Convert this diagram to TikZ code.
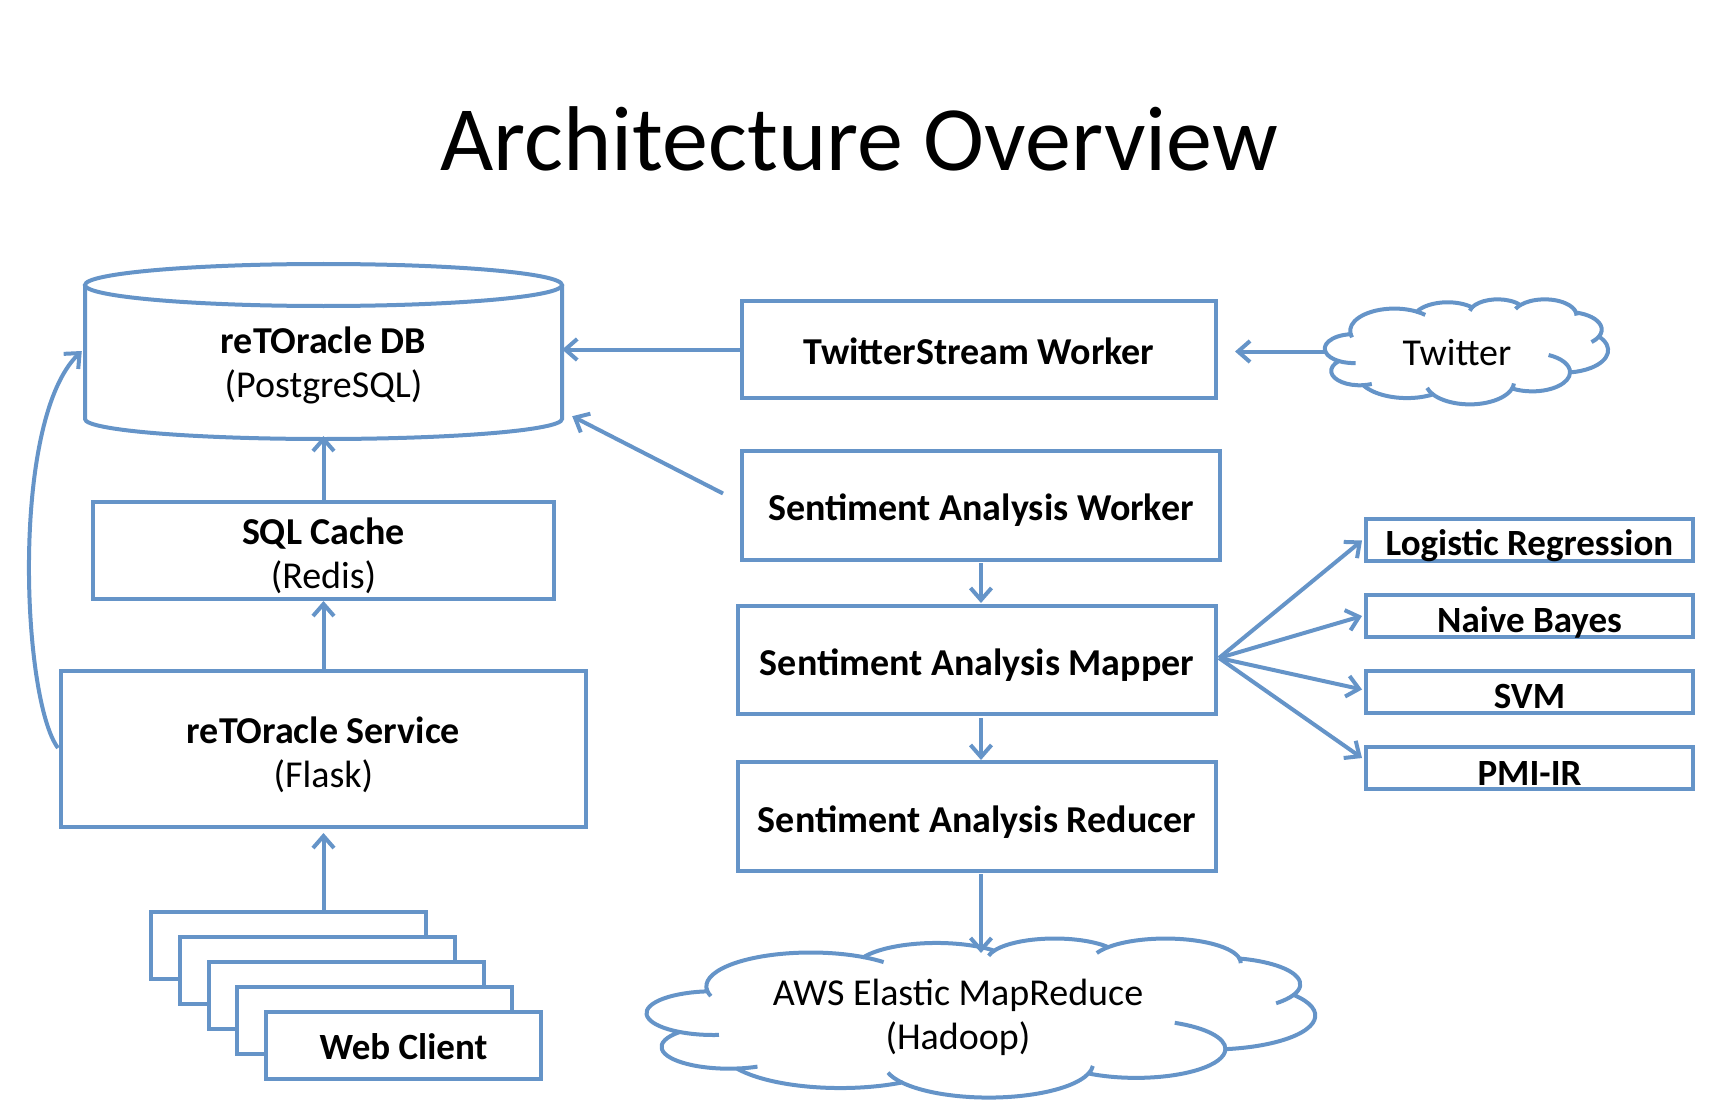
\documentclass[tikz,border=0pt]{standalone}
\usepackage{fontspec}
\setmainfont{Carlito}
\usetikzlibrary{arrows.meta,calc}
\definecolor{lb}{HTML}{6594C8}
\tikzset{
  box/.style={draw=lb, line width=4pt, fill=white, inner sep=0pt},
  cls/.style={box, minimum width=327pt, minimum height=42pt},
  lbl/.style={inner sep=0pt, align=center, font=\fontsize{38}{44}\selectfont},
  lblb/.style={lbl, font=\fontsize{38}{44}\selectfont\bfseries},
  clsl/.style={lbl, font=\fontsize{37}{40}\selectfont\bfseries},
  arr/.style={draw=lb, line width=4pt, -{Straight Barb[length=12pt,width=21pt,line width=4pt]}},
  cl/.style={draw=lb, line width=4pt, line join=round},
}
% PowerPoint-style cloud: #1,#2 top-left corner, #3 width, #4 height
\newcommand\pptcloud[4]{%
\begin{scope}[shift={(#1,#2)}, xscale=#3/432, yscale=#4/432]
\filldraw[cl, fill=white] (39.00,143.70)
  arc[start angle=-187.746, end angle=-59.635, x radius=67.53, y radius=91.90]
  arc[start angle=-152.02, end angle=-45.47, x radius=53.33, y radius=72.67]
  arc[start angle=-153.50, end angle=-37.35, x radius=43.65, y radius=59.45]
  arc[start angle=-139.72, end angle=-10.21, x radius=48.57, y radius=65.95]
  arc[start angle=-74.77, end angle=23.21, x radius=53.33, y radius=72.73]
  arc[start angle=-37.55, end angle=81.86, x radius=67.75, y radius=92.20]
  arc[start angle=0.46, end angle=121.98, x radius=57.85, y radius=78.67]
  arc[start angle=16.84, end angle=146.23, x radius=67.52, y radius=92.15]
  arc[start angle=59.02, end angle=150.20, x radius=77.20, y radius=105.43]
  arc[start angle=83.30, end angle=223.11, x radius=43.60, y radius=59.18]
  arc[start angle=120.35, end angle=264.11, x radius=43.45, y radius=59.45] -- cycle;
\draw[cl] (105.913,131.314) ++(163.2:67.53 and 91.90) arc[start angle=163.2, end angle=172.25, x radius=67.53, y radius=91.90];
\draw[cl] (105.913,131.314) ++(-59.64:67.53 and 91.90) arc[start angle=-59.64, end angle=-45.75, x radius=67.53, y radius=91.90];
\draw[cl] (263.618,60.84) ++(-167.76:43.65 and 59.45) arc[start angle=-167.76, end angle=-153.5, x radius=43.65, y radius=59.45];
\draw[cl] (335.363,67.382) ++(-156.29:48.57 and 65.95) arc[start angle=-156.29, end angle=-139.72, x radius=48.57, y radius=65.95];
\draw[cl] (335.363,67.382) ++(-10.21:48.57 and 65.95) arc[start angle=-10.21, end angle=0.83, x radius=48.57, y radius=65.95];
\draw[cl] (369.155,125.868) ++(23.21:53.33 and 72.73) arc[start angle=23.21, end angle=45, x radius=53.33, y radius=72.73];
\draw[cl] (316.219,301.396) ++(-64.3:57.85 and 78.67) arc[start angle=-64.3, end angle=0.46, x radius=57.85, y radius=78.67];
\draw[cl] (220.957,341.432) ++(3.8:67.52 and 92.15) arc[start angle=3.8, end angle=16.84, x radius=67.52, y radius=92.15];
\draw[cl] (220.957,341.432) ++(146.23:67.52 and 92.15) arc[start angle=146.23, end angle=164.6, x radius=67.52, y radius=92.15];
\draw[cl] (53.014,295.887) ++(65:43.60 and 59.18) arc[start angle=65, end angle=83.30, x radius=43.60, y radius=59.18];
\draw[cl] (43.143,204.134) ++(85.5:43.45 and 59.45) arc[start angle=85.5, end angle=120.35, x radius=43.45, y radius=59.45];
\end{scope}}
\begin{document}
\begin{tikzpicture}[x=1pt,y=-1pt]
\useasboundingbox (0,0) rectangle (1714,1110);
% title
\node[font=\fontsize{92}{100}\selectfont] (title) at (859,139) {Architecture Overview};
% DB cylinder
\fill[white] (85,285) -- (85,419) arc[start angle=180,end angle=360,x radius=238.5pt,y radius=20pt] -- (562,285) -- cycle;
\draw[lb, line width=4pt] (85,285) -- (85,419) arc[start angle=180,end angle=360,x radius=238.5pt,y radius=20pt] -- (562,285);
\draw[lb, line width=4pt, fill=white] (323.5,285) ellipse[x radius=238.5pt, y radius=21pt];
\node[inner sep=0pt, minimum width=477pt, minimum height=134pt] (db) at (323.5,362) {};
\node[lbl] at ($(db)+(0,3)$) {\textbf{reTOracle DB}\\(PostgreSQL)};
% left column
\node[box, minimum width=461pt, minimum height=97pt] (sql) at (323.5,550.5) {};
\node[lbl] at ($(sql)+(0,5)$) {\textbf{SQL Cache}\\(Redis)};
\node[box, minimum width=525pt, minimum height=156pt] (svc) at (323.5,749) {};
\node[lbl] at ($(svc)+(0,6)$) {\textbf{reTOracle Service}\\(Flask)};
% web clients
\foreach \i in {0,1,2,3}{
  \node[box, anchor=north west, minimum width=275pt, minimum height=67pt] (wc\i) at ({149+28.75*\i},{910+25*\i}) {};
}
\node[box, anchor=north west, minimum width=275pt, minimum height=67pt] (web) at (264,1010) {};
\node[clsl] at ($(web)+(0,1)$) {Web Client};
% right column
\node[box, minimum width=474pt, minimum height=97pt] (tsw) at (979,349.5) {};
\node[lblb] at ($(tsw)+(0,2)$) {TwitterStream Worker};
\node[box, minimum width=478pt, minimum height=109pt] (saw) at (981,505.5) {};
\node[lblb] at ($(saw)+(0,5)$) {Sentiment Analysis Worker};
\node[box, minimum width=478pt, minimum height=108pt] (sam) at (977,660) {};
\node[lblb] at ($(sam)+(0,5)$) {Sentiment Analysis Mapper};
\node[box, minimum width=478pt, minimum height=109pt] (sar) at (977,816.5) {};
\node[lblb] at ($(sar)+(0,6)$) {Sentiment Analysis Reducer};
% classifiers
\node[cls] (lr) at (1529.5,539.5) {};
\node[clsl] at ($(lr)+(0,6)$) {Logistic Regression};
\node[cls] (nb) at (1529.5,616) {};
\node[clsl] at ($(nb)+(0,6)$) {Naive Bayes};
\node[cls] (svm) at (1529.5,691.5) {};
\node[clsl] at ($(svm)+(0,5)$) {SVM};
\node[cls] (pmi) at (1529.5,768) {};
\node[clsl] at ($(pmi)+(0,5)$) {PMI-IR};
% clouds
\pptcloud{1325}{299}{283}{105}
\node[inner sep=0pt, minimum width=283pt, minimum height=105pt] (tw) at (1466.5,351.5) {};
\node[lbl] at (1457,353) {Twitter};
\pptcloud{647}{938}{668}{159}
\node[inner sep=0pt, minimum width=668pt, minimum height=159pt] (aws) at (981,1017.5) {};
\node[lbl] at (958,1017) {AWS Elastic MapReduce\\(Hadoop)};
% arrows
\draw[arr] (tsw.west) -- (db.east |- tsw.west);
\draw[arr] (tw.west) -- ($(tsw.east)+(17,2)$);
\draw[arr] ($(saw.west)+(-17,-12)$) -- ($(db.south east)+(10,-13)$);
\draw[arr] ($(saw.south)+(0,1)$) -- ($(saw.south)+(0,41)$);
\draw[arr] ($(sam.south)+(4,2)$) -- ($(sam.south)+(4,44)$);
\draw[arr] ($(sar.south)+(4,1)$) -- ($(sar.south)+(4,80)$);
\coordinate (fan) at ($(sam.east)+(1,-2)$);
\draw[arr] (fan) -- ($(lr.west)+(-2,1)$);
\draw[arr] (fan) -- ($(nb.west)+(-2,0)$);
\draw[arr] (fan) -- ($(svm.west)+(-2,-2)$);
\draw[arr] (fan) -- ($(pmi.west)+(-2,-10)$);
\draw[arr] (sql.north) -- ($(sql.north)+(0,-64)$);
\draw[arr] (svc.north) -- ($(svc.north)+(0,-68)$);
\draw[arr] (wc0.north -| svc.south) -- ($(svc.south)+(0,4)$);
\draw[arr] ($(svc.west)+(-1,-1)$) .. controls (22,700) and (10,420) .. ($(db.west)+(-3,-11)$);
\end{tikzpicture}
\end{document}
